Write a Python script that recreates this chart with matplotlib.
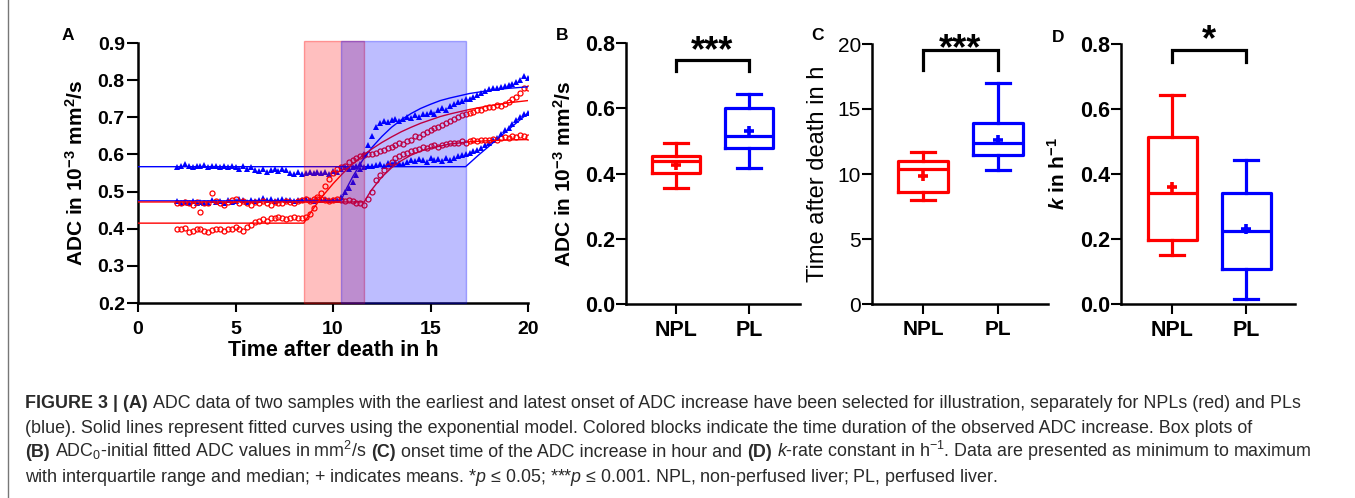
import numpy as np
import matplotlib
matplotlib.use('Agg')
import matplotlib.pyplot as plt
from matplotlib.lines import Line2D

plt.rcParams['font.family'] = 'Liberation Sans'
plt.rcParams['mathtext.fontset'] = 'custom'
plt.rcParams['mathtext.rm'] = 'Liberation Sans'
plt.rcParams['mathtext.it'] = 'Liberation Sans:italic'
plt.rcParams['mathtext.bf'] = 'Liberation Sans:bold'
plt.rcParams['mathtext.bfit'] = 'Liberation Sans:italic:bold'

RED = '#ff0000'
BLUE = '#0000ff'

# ---- panel A: ADC time courses (sampled every 0.2 h from 2 h to 20 h) ----
t_meas = np.round(np.arange(2.0, 20.001, 0.2), 1)

blue_hi = [0.565, 0.570, 0.575, 0.570, 0.565, 0.570, 0.568, 0.572, 0.565, 0.570, 0.568,
           0.565, 0.570, 0.566, 0.568, 0.565, 0.562, 0.568, 0.560, 0.565, 0.558,
           0.555, 0.560, 0.552, 0.558, 0.562, 0.555, 0.560, 0.557, 0.550, 0.548,
           0.552, 0.548, 0.550, 0.552, 0.550, 0.553, 0.550, 0.552, 0.548, 0.555,
           0.553, 0.560, 0.565, 0.562, 0.565, 0.568, 0.562, 0.565, 0.570, 0.568,
           0.572, 0.575, 0.570, 0.578, 0.575, 0.580, 0.577, 0.575, 0.580, 0.585,
           0.582, 0.588, 0.585, 0.580, 0.590, 0.585, 0.588, 0.583, 0.590, 0.585,
           0.590, 0.595, 0.598, 0.600, 0.603, 0.608, 0.612, 0.618, 0.625, 0.630,
           0.638, 0.645, 0.655, 0.665, 0.672, 0.682, 0.692, 0.700, 0.708, 0.712]

blue_lo = [0.475, 0.470, 0.472, 0.468, 0.475, 0.470, 0.473, 0.468, 0.470, 0.476, 0.472,
           0.475, 0.470, 0.478, 0.472, 0.475, 0.480, 0.476, 0.472, 0.478, 0.475,
           0.478, 0.482, 0.476, 0.480, 0.475, 0.478, 0.480, 0.476, 0.478, 0.475,
           0.478, 0.476, 0.480, 0.477, 0.475, 0.478, 0.476, 0.480, 0.478, 0.477,
           0.478, 0.485, 0.500, 0.510, 0.525, 0.545, 0.575, 0.600, 0.625, 0.650,
           0.675, 0.685, 0.690, 0.688, 0.692, 0.695, 0.690, 0.695, 0.700, 0.698,
           0.705, 0.700, 0.710, 0.708, 0.715, 0.710, 0.720, 0.725, 0.720, 0.730,
           0.735, 0.740, 0.745, 0.750, 0.748, 0.755, 0.760, 0.765, 0.772, 0.775,
           0.778, 0.780, 0.782, 0.785, 0.788, 0.790, 0.795, 0.800, 0.810, 0.805]

red_lo = [0.400, 0.398, 0.402, 0.390, 0.395, 0.400, 0.398, 0.395, 0.390, 0.396, 0.400,
          0.398, 0.395, 0.400, 0.398, 0.405, 0.400, 0.395, 0.405, 0.410, 0.418,
          0.420, 0.425, 0.422, 0.430, 0.428, 0.432, 0.430, 0.425, 0.428, 0.432,
          0.428, 0.430, 0.432, 0.440, 0.455, 0.480, 0.495, 0.515, 0.535, 0.550,
          0.560, 0.565, 0.570, 0.580, 0.585, 0.590, 0.595, 0.598, 0.600, 0.602,
          0.605, 0.610, 0.612, 0.618, 0.620, 0.625, 0.630, 0.628, 0.635, 0.640,
          0.650, 0.648, 0.655, 0.660, 0.665, 0.670, 0.675, 0.680, 0.685, 0.690,
          0.695, 0.700, 0.705, 0.710, 0.712, 0.715, 0.720, 0.720, 0.725, 0.728,
          0.728, 0.732, 0.730, 0.735, 0.740, 0.750, 0.755, 0.765, 0.780, 0.780]

red_mid = [0.470, 0.468, 0.472, 0.470, 0.465, 0.472, 0.445, 0.470, 0.468, 0.495, 0.475,
           0.470, 0.465, 0.472, 0.478, 0.480, 0.468, 0.475, 0.470, 0.465, 0.472,
           0.468, 0.475, 0.470, 0.465, 0.472, 0.470, 0.468, 0.475, 0.472, 0.470,
           0.475, 0.478, 0.480, 0.475, 0.480, 0.485, 0.480, 0.478, 0.475, 0.478,
           0.480, 0.478, 0.475, 0.478, 0.475, 0.470, 0.468, 0.465, 0.480, 0.500,
           0.530, 0.545, 0.558, 0.570, 0.580, 0.590, 0.595, 0.600, 0.605, 0.610,
           0.612, 0.615, 0.620, 0.618, 0.622, 0.625, 0.620, 0.625, 0.628, 0.630,
           0.630, 0.632, 0.635, 0.630, 0.635, 0.638, 0.635, 0.640, 0.638, 0.640,
           0.642, 0.640, 0.645, 0.648, 0.645, 0.650, 0.648, 0.652, 0.650, 0.648]

# fitted curves
fit_red_lo_t = [0, 8.5, 9, 9.5, 10, 10.5, 11, 11.5, 12, 12.5, 13, 13.5, 14, 14.5, 15, 15.5, 16, 17, 18, 19, 20]
fit_red_lo_v = [0.415, 0.415, 0.455, 0.490, 0.521, 0.549, 0.574, 0.596, 0.615, 0.632, 0.647, 0.661,
                0.673, 0.684, 0.693, 0.702, 0.709, 0.721, 0.731, 0.739, 0.745]
fit_red_mid_t = [0, 11.6, 11.8, 12, 12.5, 13, 13.5, 14, 14.5, 15, 16, 17, 18, 19, 20]
fit_red_mid_v = [0.472, 0.472, 0.490, 0.506, 0.539, 0.564, 0.583, 0.598, 0.609, 0.617, 0.628,
                 0.634, 0.637, 0.639, 0.640]
fit_blue_lo_t = [0, 10.4, 10.7, 11, 11.5, 12, 12.5, 13, 13.5, 14, 14.5, 15, 15.5, 16, 17, 18, 19, 20]
fit_blue_lo_v = [0.475, 0.475, 0.509, 0.539, 0.583, 0.619, 0.648, 0.673, 0.693, 0.710, 0.724, 0.735,
                 0.745, 0.752, 0.764, 0.772, 0.778, 0.782]
fit_blue_hi_t = [0, 16.8, 17.5, 18, 18.5, 19, 19.5, 20]
fit_blue_hi_v = [0.567, 0.567, 0.600, 0.622, 0.645, 0.667, 0.689, 0.711]

# duration of the ADC increase (h)
red_block = (8.5, 11.6)
blue_block = (10.4, 16.8)

# ---- panels B-D: box plot summaries [min, q1, median, q3, max, mean] ----
groups = ['NPL', 'PL']
adc0_npl = [0.355, 0.403, 0.437, 0.455, 0.492, 0.425]
adc0_pl = [0.418, 0.478, 0.515, 0.600, 0.644, 0.531]
onset_npl = [8.0, 8.6, 10.36, 11.0, 11.7, 9.85]
onset_pl = [10.3, 11.46, 12.36, 13.95, 16.98, 12.6]
k_npl = [0.151, 0.197, 0.341, 0.513, 0.643, 0.361]
k_pl = [0.015, 0.107, 0.225, 0.341, 0.443, 0.230]

W, H = 1355, 498
fig = plt.figure(figsize=(W / 100, H / 100), dpi=100)


def px_axes(l, r, b, t):
    return fig.add_axes([l / W, 1 - b / H, (r - l) / W, (b - t) / H])


def style_axes(ax, fs, weight='bold'):
    for s in ['top', 'right']:
        ax.spines[s].set_visible(False)
    for s in ['left', 'bottom']:
        ax.spines[s].set_linewidth(1.8)
    ax.tick_params(width=1.5, length=7, labelsize=fs)
    ax.tick_params(axis='y', pad=1)
    for lab in ax.get_yticklabels():
        lab.set_fontweight(weight)


# panel A
axA = px_axes(138, 528, 303, 43)
axA.plot(t_meas, blue_hi, '^', color=BLUE, ms=3.8, mew=0, zorder=2)
axA.plot(t_meas, blue_lo, '^', color=BLUE, ms=3.8, mew=0, zorder=2)
axA.plot(t_meas, red_lo, 'o', mfc='none', mec=RED, ms=3.6, mew=0.9, zorder=2)
axA.plot(t_meas, red_mid, 'o', mfc='none', mec=RED, ms=3.6, mew=0.9, zorder=2)
axA.plot(fit_blue_hi_t, fit_blue_hi_v, color=BLUE, lw=1.0, zorder=3)
axA.plot(fit_blue_lo_t, fit_blue_lo_v, color=BLUE, lw=1.0, zorder=3)
axA.plot(fit_red_lo_t, fit_red_lo_v, color=RED, lw=1.0, zorder=3)
axA.plot(fit_red_mid_t, fit_red_mid_v, color=RED, lw=1.0, zorder=3)
top = (0.905 - 0.2) / 0.7
axA.axvspan(*red_block, ymin=0, ymax=top, facecolor=(1, 0, 0, 0.25), edgecolor=(1, 0, 0, 0.35),
            lw=1, zorder=4, clip_on=False)
axA.axvspan(*blue_block, ymin=0, ymax=top, facecolor=(0, 0, 1, 0.26), edgecolor=(0, 0, 1, 0.3),
            lw=1, zorder=5, clip_on=False)
axA.set_xlim(0, 20)
axA.set_ylim(0.2, 0.9)
axA.set_xticks([0, 5, 10, 15, 20])
axA.set_yticks(np.round(np.arange(0.2, 0.91, 0.1), 1))
axA.set_yticklabels(['%.1f' % v for v in np.arange(0.2, 0.91, 0.1)])
style_axes(axA, 14)
axA.tick_params(axis='y', length=8, pad=1.5)
axA.tick_params(axis='x', length=6.5, pad=6.5)
for lab in axA.get_xticklabels():
    lab.set_fontweight('bold')
axA.set_xlabel('Time after death in h', fontsize=15.5, fontweight='bold')
axA.xaxis.set_label_coords(0.5, (303 - 340) / 260)
axA.set_ylabel('ADC in 10$^{\\mathbf{-3}}$ mm$^{\\mathbf{2}}$/s', fontsize=15, fontweight='bold')
axA.yaxis.set_label_coords((87 - 138) / 390, 0.5)


def box_panel(ax, npl, pl, xlim, ylim, yticks, ylabels):
    for vals, pos, c in [(npl, 1, RED), (pl, 2, BLUE)]:
        st = dict(whislo=vals[0], q1=vals[1], med=vals[2], q3=vals[3], whishi=vals[4],
                  mean=vals[5], fliers=[])
        lp = dict(color=c, lw=2.3)
        ax.bxp([st], positions=[pos], widths=0.66, capwidths=0.33, showmeans=True,
               showfliers=False, boxprops=lp, whiskerprops=lp, capprops=lp, medianprops=lp,
               meanprops=dict(marker='+', markeredgecolor=c, markersize=7, markeredgewidth=2.6),
               manage_ticks=False)
    ax.set_xlim(*xlim)
    ax.set_ylim(*ylim)
    ax.set_xticks([1, 2])
    ax.set_xticklabels(groups, fontsize=15, fontweight='bold')
    ax.set_yticks(yticks)
    ax.set_yticklabels(ylabels)
    ax.tick_params(axis='x', pad=4.5)


def sig_bar(ax, y_top, y_low, y_star, stars):
    ax.plot([1, 1, 2, 2], [y_low, y_top, y_top, y_low], color='black', lw=2.3,
            clip_on=False, solid_joinstyle='miter')
    ax.text(1.5, y_star, stars, ha='center', va='baseline', fontsize=26, fontweight='bold',
            clip_on=False)


axB = px_axes(626, 800, 304, 43)
box_panel(axB, adc0_npl, adc0_pl, (0.315, 2.70), (0, 0.8), [0, 0.2, 0.4, 0.6, 0.8],
          ['0.0', '0.2', '0.4', '0.6', '0.8'])
style_axes(axB, 15.5)
axB.set_ylabel('ADC in 10$^{\\mathbf{-3}}$ mm$^{\\mathbf{2}}$/s', fontsize=15, fontweight='bold')
axB.yaxis.set_label_coords((575 - 626) / 174, 0.5)
sig_bar(axB, 0.748, 0.713, 0.745, '***')

axC = px_axes(872, 1048, 304, 44)
box_panel(axC, onset_npl, onset_pl, (0.32, 2.667), (0, 20), [0, 5, 10, 15, 20],
          ['0', '5', '10', '15', '20'])
style_axes(axC, 15, weight='normal')
axC.set_ylabel('Time after death in h', fontsize=17)
axC.yaxis.set_label_coords((829 - 872) / 176, 0.5)
sig_bar(axC, 19.54, 18.0, 18.85, '***')

axD = px_axes(1121, 1295, 304, 44)
box_panel(axD, k_npl, k_pl, (0.31, 2.66), (0, 0.8), [0, 0.2, 0.4, 0.6, 0.8],
          ['0.0', '0.2', '0.4', '0.6', '0.8'])
style_axes(axD, 15.5)
axD.set_ylabel('$\\mathbfit{k}$ in h$^{\\mathbf{-1}}$', fontsize=15, fontweight='bold')
axD.yaxis.set_label_coords((1069 - 1121) / 174, 0.5)
sig_bar(axD, 0.782, 0.746, 0.781, '*')

# panel letters
for letter, x, y in [('A', 68, 35), ('B', 562, 35), ('C', 818, 35), ('D', 1058, 37)]:
    fig.text(x / W, 1 - y / H, letter, fontsize=12.5, fontweight='bold', ha='center', va='center')

# caption
fig.add_artist(Line2D([8 / W, 8 / W], [0, 1], color='#777777', lw=1))
CAP_FS = 12.9
CAP_COLOR = '#2a2a2a'
renderer = fig.canvas.get_renderer()
t1 = fig.text(0, 0, 'a a', fontsize=CAP_FS)
t2 = fig.text(0, 0, 'aa', fontsize=CAP_FS)
space_px = t1.get_window_extent(renderer).width - t2.get_window_extent(renderer).width
t1.remove()
t2.remove()

caption = [
    [('FIGURE 3 | (A)', True),
     ('ADC data of two samples with the earliest and latest onset of ADC increase have been '
      'selected for illustration, separately for NPLs (red) and PLs', False)],
    [('(blue). Solid lines represent fitted curves using the exponential model. Colored blocks '
      'indicate the time duration of the observed ADC increase. Box plots of', False)],
    [('(B)', True), ('ADC$_0$-initial fitted ADC values in mm$^2$/s', False), ('(C)', True),
     ('onset time of the ADC increase in hour and', False), ('(D)', True),
     ('$k$-rate constant in h$^{-1}$. Data are presented as minimum to maximum', False)],
    [('with interquartile range and median; + indicates means. *$p$ \u2264 0.05; '
      '***$p$ \u2264 0.001. NPL, non-perfused liver; PL, perfused liver.', False)],
]
for i, parts in enumerate(caption):
    x = 25
    y = 408 + 24.5 * i
    for s, bold in parts:
        t = fig.text(x / W, 1 - y / H, s, fontsize=CAP_FS, color=CAP_COLOR,
                     fontweight='bold' if bold else 'normal', ha='left', va='baseline')
        x += t.get_window_extent(renderer).width + space_px

fig.savefig('out.png', dpi=100)
